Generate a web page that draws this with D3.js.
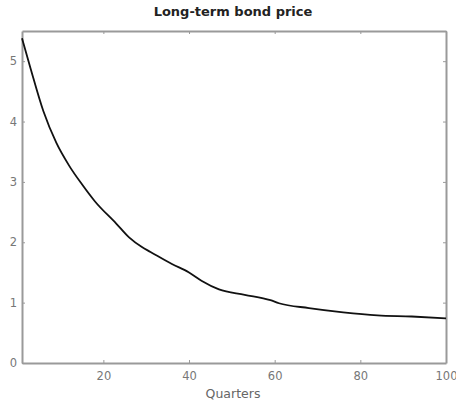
<!DOCTYPE html>
<html>
<head>
<meta charset="utf-8">
<script src="https://cdn.jsdelivr.net/npm/d3@7"></script>
<style>
  body { margin: 0; background: #fff; }
  svg { display: block; font-family: "DejaVu Sans", sans-serif; }
  .axis path, .axis line { stroke: #9a9a9a; }
  .axis text { fill: #777; font-size: 11.5px; font-family: "DejaVu Sans", sans-serif; }
</style>
</head>
<body>
<svg width="456" height="404"></svg>
<script>
// quarters and long-term bond price
var quarters = [1, 3, 6, 9, 12, 15, 18, 23, 26, 29, 31, 36, 40, 43, 47, 53, 59, 61, 68, 76, 84, 92, 100];
var price = [5.38, 4.88, 4.17, 3.65, 3.27, 2.96, 2.68, 2.31, 2.08, 1.92, 1.84, 1.64, 1.50, 1.36, 1.22, 1.13, 1.04, 0.99, 0.91, 0.84, 0.79, 0.77, 0.74];
var xTicks = [20, 40, 60, 80, 100];
var yTicks = [0, 1, 2, 3, 4, 5];

var data = quarters.map(function(q, i) { return {x: q, y: price[i]}; });

var margin = {top: 31, right: 10, bottom: 41, left: 22},
    width = 456 - margin.left - margin.right,
    height = 404 - margin.top - margin.bottom;

var x = d3.scaleLinear().domain([1, 100]).range([0, width]);
var y = d3.scaleLinear().domain([0, 5.5]).range([height, 0]);

var svg = d3.select("svg")
  .append("g")
    .attr("transform", "translate(" + margin.left + "," + margin.top + ")");

// box axes, ticks pointing inward
svg.append("g")
    .attr("class", "axis")
    .attr("transform", "translate(0," + height + ")")
    .call(d3.axisBottom(x).tickValues(xTicks).tickFormat(d3.format("d"))
      .tickSizeInner(-3).tickSizeOuter(0).tickPadding(9));

svg.append("g")
    .attr("class", "axis")
    .call(d3.axisTop(x).tickValues(xTicks).tickSizeInner(-3).tickSizeOuter(0).tickFormat(""));

svg.append("g")
    .attr("class", "axis")
    .call(d3.axisLeft(y).tickValues(yTicks).tickFormat(d3.format("d"))
      .tickSizeInner(-3).tickSizeOuter(0).tickPadding(5));

svg.append("g")
    .attr("class", "axis")
    .attr("transform", "translate(" + width + ",0)")
    .call(d3.axisRight(y).tickValues(yTicks).tickSizeInner(-3).tickSizeOuter(0).tickFormat(""));

svg.selectAll(".axis path").attr("stroke-width", 2);

var line = d3.line()
    .curve(d3.curveMonotoneX)
    .x(function(d) { return x(d.x); })
    .y(function(d) { return y(d.y); });

svg.append("path")
    .datum(data)
    .attr("fill", "none")
    .attr("stroke", "#111")
    .attr("stroke-width", 1.8)
    .attr("d", line);

svg.append("text")
    .attr("x", 233 - margin.left)
    .attr("y", -15)
    .attr("text-anchor", "middle")
    .attr("font-size", 13)
    .attr("font-weight", "bold")
    .attr("fill", "#222")
    .text("Long-term bond price");

svg.append("text")
    .attr("x", 233 - margin.left)
    .attr("y", height + 35)
    .attr("text-anchor", "middle")
    .attr("font-size", 12.5)
    .attr("fill", "#666")
    .text("Quarters");
</script>
</body>
</html>
